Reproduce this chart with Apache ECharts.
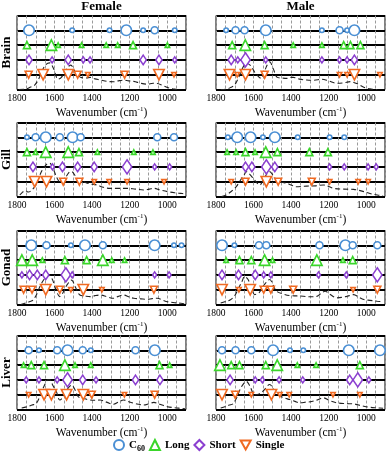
<!DOCTYPE html>
<html>
<head>
<meta charset="utf-8">
<script src="https://cdn.jsdelivr.net/npm/echarts@6/dist/echarts.min.js"></script>
<style>
html,body{margin:0;padding:0;background:#fff;}
#c{width:389px;height:454px;}
</style>
</head>
<body>
<div id="c"></div>
<script>
// ---------- labels ----------
const TISSUES = ['Brain', 'Gill', 'Gonad', 'Liver'];
const SEXES = ['Female', 'Male'];
const SERIES_NAMES = ['C60', 'Long', 'Short', 'Single'];
const SERIES_LEVEL = [4, 3, 2, 1];
const X_TICKS = [1800, 1600, 1400, 1200, 1000];

// ---------- marker data: [wavenumber, size class 1=small 2=medium 3=large] ----------
const fBrainC60    = [[1736,3],[1506,1],[1307,1],[1218,3],[1128,1],[1067,2],[960,1]];
const fBrainLong   = [[1747,2],[1617,3],[1581,1],[1456,1],[1325,1],[1264,1],[1182,2],[999,1]];
const fBrainShort  = [[1736,2],[1613,1],[1527,2],[1447,1],[1411,1],[1128,2],[1044,2],[960,1]];
const fBrainSingle = [[1738,2],[1661,3],[1527,3],[1477,2],[1423,1],[1227,2],[1044,3],[964,1]];

const mBrainC60    = [[1746,1],[1696,2],[1648,2],[1535,3],[1236,1],[1142,2],[1102,1],[1063,3]];
const mBrainLong   = [[1714,2],[1644,3],[1541,2],[1389,1],[1236,1],[1120,2],[1084,2],[1031,2]];
const mBrainShort  = [[1719,2],[1684,1],[1643,3],[1535,1],[1236,1],[1142,1],[1102,1],[1063,2]];
const mBrainSingle = [[1728,3],[1687,1],[1643,3],[1541,2],[1142,1],[1102,1],[1063,3],[927,1]];

const fGillC60    = [[1747,1],[1701,2],[1647,3],[1572,2],[1504,3],[1461,2],[1053,2],[964,2]];
const fGillLong   = [[1747,2],[1701,1],[1647,3],[1527,3],[1470,2],[1372,1],[1178,1],[1076,1]];
const fGillShort  = [[1715,2],[1611,1],[1558,2],[1477,2],[1389,2],[1214,3],[1067,1],[987,1]];
const fGillSingle = [[1706,3],[1643,3],[1554,2],[1468,2],[1389,1],[1309,1],[1214,1],[1017,1]];

const mGillC60    = [[1737,1],[1687,3],[1616,3],[1550,1],[1487,3],[1365,1],[1195,1],[1117,1]];
const mGillLong   = [[1741,1],[1693,1],[1643,2],[1592,1],[1535,3],[1473,2],[1303,2],[1204,2]];
const mGillShort  = [[1643,2],[1609,2],[1532,3],[1487,2],[1195,1],[1117,1],[990,1],[947,1]];
const mGillSingle = [[1719,1],[1643,2],[1532,3],[1469,2],[1290,2],[1195,1],[1043,1],[990,1]];

const fGonadC60    = [[1724,3],[1643,2],[1513,1],[1438,3],[1343,2],[1067,3],[964,1],[924,1]];
const fGonadLong   = [[1774,3],[1719,3],[1665,1],[1545,2],[1429,2],[1343,3],[1295,1],[1227,1]];
const fGonadShort  = [[1774,1],[1733,2],[1692,2],[1647,2],[1540,3],[1506,1],[1067,1],[990,1]];
const fGonadSingle = [[1765,2],[1720,2],[1647,3],[1572,2],[1513,1],[1447,3],[1348,1],[1071,2]];

const mGonadC60    = [[1768,3],[1702,1],[1571,2],[1532,2],[1249,2],[1111,3],[1072,2],[941,2]];
const mGonadLong   = [[1746,1],[1675,2],[1612,2],[1541,3],[1499,1],[1263,3],[1124,1],[1072,2]];
const mGonadShort  = [[1768,2],[1680,2],[1591,2],[1546,1],[1508,1],[1254,1],[1106,1],[941,3]];
const mGonadSingle = [[1768,3],[1678,1],[1618,3],[1546,2],[1508,2],[1389,2],[1070,1],[941,2]];

const fLiverC60    = [[1738,2],[1683,1],[1586,2],[1531,3],[1450,2],[1407,1],[1169,2],[1066,3]];
const fLiverLong   = [[1765,1],[1724,2],[1656,2],[1545,3],[1491,1],[1407,1],[1041,2],[987,1]];
const fLiverShort  = [[1751,1],[1683,1],[1586,1],[1531,3],[1450,2],[1379,1],[1169,2],[1039,2]];
const fLiverSingle = [[1738,1],[1656,3],[1617,3],[1536,3],[1447,3],[1402,2],[1228,1],[1067,2]];

const mLiverC60    = [[1768,2],[1696,2],[1612,2],[1496,3],[1406,1],[1335,1],[1093,3],[927,3]];
const mLiverLong   = [[1779,3],[1719,2],[1675,2],[1535,2],[1474,3],[1367,1],[1267,1],[1034,2]];
const mLiverShort  = [[1725,2],[1591,1],[1553,1],[1464,1],[1338,1],[1088,2],[1045,3],[986,1]];
const mLiverSingle = [[1768,3],[1698,2],[1612,1],[1505,3],[1460,1],[1410,1],[1177,1],[1034,1]];

// ---------- mean spectra (dashed): [wavenumber, absorbance in row units] ----------
const fBrainSpec = [[1790,0],[1755,0.02],[1730,0.15],[1706,0.3],[1685,0.7],[1665,1.3],[1645,1.7],[1626,1.8],[1605,1.4],[1581,0.7],[1565,0.8],[1540,1.3],[1514,1.65],[1490,1.2],[1456,0.8],[1430,0.78],[1411,0.82],[1385,0.72],[1357,0.65],[1320,0.55],[1286,0.52],[1255,0.6],[1232,0.63],[1205,0.58],[1178,0.55],[1140,0.42],[1107,0.36],[1075,0.42],[1053,0.41],[1025,0.28],[999,0.14],[970,0.04],[946,0]];
const mBrainSpec = [[1775,0],[1746,0.02],[1720,0.15],[1701,0.3],[1680,0.8],[1660,1.4],[1639,1.77],[1615,1.6],[1590,1.1],[1558,0.75],[1540,1.3],[1514,1.88],[1495,1.4],[1474,0.82],[1450,0.78],[1424,0.75],[1400,0.82],[1389,0.82],[1355,0.7],[1317,0.64],[1280,0.62],[1236,0.69],[1200,0.58],[1156,0.42],[1120,0.45],[1084,0.53],[1050,0.4],[1013,0.15],[980,0.04],[941,0]];
const fGillSpec = [[1785,0.1],[1770,0.3],[1755,0.4],[1740,0.3],[1720,0.45],[1700,0.8],[1680,1.4],[1660,1.9],[1640,2.2],[1625,2.24],[1605,1.8],[1585,1.2],[1565,0.9],[1545,1.2],[1525,1.6],[1509,1.68],[1490,1.4],[1470,1.1],[1447,1.0],[1410,0.85],[1375,0.78],[1340,0.62],[1304,0.55],[1260,0.55],[1214,0.55],[1170,0.5],[1125,0.44],[1095,0.5],[1071,0.55],[1040,0.45],[999,0.33],[960,0.25],[928,0.21],[905,0.18]];
const mGillSpec = [[1770,0],[1746,0.1],[1728,0.25],[1710,0.44],[1690,0.7],[1675,1.0],[1660,1.3],[1648,1.5],[1639,1.68],[1620,1.5],[1594,1.1],[1567,0.78],[1545,1.2],[1525,1.6],[1514,1.68],[1495,1.4],[1469,1.0],[1445,0.95],[1424,0.9],[1400,0.78],[1371,0.66],[1340,0.68],[1317,0.7],[1270,0.72],[1228,0.78],[1200,0.68],[1174,0.55],[1120,0.5],[1067,0.48],[1040,0.42],[1013,0.33],[980,0.2],[941,0.1],[910,0.05]];
const fGonadSpec = [[1780,0],[1751,0.12],[1730,0.2],[1715,0.3],[1695,0.7],[1675,1.3],[1650,1.8],[1630,2.0],[1612,1.7],[1595,1.1],[1572,0.53],[1555,0.8],[1535,1.3],[1509,1.65],[1490,1.2],[1465,0.64],[1440,0.58],[1411,0.53],[1385,0.6],[1357,0.64],[1320,0.52],[1286,0.42],[1260,0.55],[1232,0.64],[1205,0.52],[1178,0.42],[1140,0.38],[1107,0.35],[1080,0.4],[1053,0.42],[1025,0.3],[999,0.19],[960,0.12],[928,0.08],[905,0.05]];
const mGonadSpec = [[1775,0.1],[1746,0.22],[1725,0.3],[1700,0.6],[1680,1.1],[1660,1.6],[1648,1.9],[1630,1.7],[1610,1.1],[1594,0.67],[1570,0.8],[1545,1.3],[1514,1.69],[1495,1.3],[1478,0.9],[1440,0.7],[1407,0.6],[1370,0.58],[1335,0.56],[1300,0.52],[1263,0.55],[1240,0.75],[1219,0.9],[1195,0.7],[1156,0.45],[1120,0.5],[1090,0.6],[1067,0.67],[1040,0.5],[1013,0.34],[980,0.28],[941,0.22],[910,0.18]];
const fLiverSpec = [[1775,0.1],[1742,0.2],[1720,0.3],[1697,0.42],[1675,1.0],[1655,1.6],[1635,2.0],[1625,2.0],[1608,1.6],[1590,1.2],[1572,0.64],[1550,0.9],[1530,1.4],[1509,1.65],[1490,1.3],[1474,0.87],[1440,0.72],[1411,0.64],[1385,0.62],[1357,0.64],[1320,0.48],[1286,0.35],[1260,0.5],[1232,0.64],[1205,0.52],[1178,0.42],[1150,0.35],[1125,0.3],[1095,0.4],[1071,0.48],[1040,0.35],[999,0.19],[960,0.12],[928,0.08],[905,0.05]];
const mLiverSpec = [[1775,0.1],[1746,0.22],[1730,0.3],[1710,0.38],[1690,0.8],[1670,1.4],[1650,1.8],[1639,1.9],[1620,1.6],[1594,1.0],[1570,1.05],[1545,1.3],[1514,1.69],[1495,1.4],[1469,1.0],[1440,0.8],[1407,0.67],[1380,0.55],[1353,0.45],[1320,0.5],[1299,0.52],[1260,0.65],[1228,0.79],[1195,0.6],[1156,0.45],[1110,0.4],[1067,0.38],[1040,0.3],[1013,0.22],[980,0.15],[941,0.11],[910,0.08]];

// panel order: row-major (tissue) x (sex)
const PANELS = [
  {marks:[fBrainC60,fBrainLong,fBrainShort,fBrainSingle], spec:fBrainSpec},
  {marks:[mBrainC60,mBrainLong,mBrainShort,mBrainSingle], spec:mBrainSpec},
  {marks:[fGillC60,fGillLong,fGillShort,fGillSingle], spec:fGillSpec},
  {marks:[mGillC60,mGillLong,mGillShort,mGillSingle], spec:mGillSpec},
  {marks:[fGonadC60,fGonadLong,fGonadShort,fGonadSingle], spec:fGonadSpec},
  {marks:[mGonadC60,mGonadLong,mGonadShort,mGonadSingle], spec:mGonadSpec},
  {marks:[fLiverC60,fLiverLong,fLiverShort,fLiverSingle], spec:fLiverSpec},
  {marks:[mLiverC60,mLiverLong,mLiverShort,mLiverSingle], spec:mLiverSpec}
];

// ---------- styling ----------
const FONT = 'Liberation Serif';
const COLORS = ['#4a8fd4', '#3ad62a', '#8b3fd0', '#f06a22'];
const SYMBOLS = ['circle', 'triangle', 'diamond', 'triangle'];
const ROTATE = [0, 0, 0, 180];
const SIZE = {1: 4.5, 2: 7, 3: 10.5};
const COL_LEFT = [17, 216];
const GRID_W = 169;
const ROW_TOP = [15.5, 122.5, 230.5, 335.5];
const GRID_H = 74;

const grids = [], xAxes = [], yAxes = [], series = [];
PANELS.forEach((p, i) => {
  const row = Math.floor(i / 2), col = i % 2;
  grids.push({left: COL_LEFT[col], top: ROW_TOP[row], width: GRID_W, height: GRID_H,
    show: true, borderColor: '#000', borderWidth: 1, backgroundColor: '#fff',
    containLabel: false, outerBoundsMode: 'none'});
  xAxes.push({
    gridIndex: i, type: 'value', min: 900, max: 1800, interval: 50, inverse: true,
    axisLine: {show: false}, axisTick: {show: false},
    axisLabel: {formatter: v => X_TICKS.includes(v) ? String(v) : '', fontFamily: FONT,
      fontSize: 9.5, color: '#000', margin: 4},
    splitLine: {show: true, lineStyle: {color: '#9a9a9a', type: [3, 2], width: 1}},
    name: '{a|Wavenumber (cm}{b|-1}{a|)}', nameLocation: 'middle', nameGap: 16,
    nameTextStyle: {rich: {
      a: {fontFamily: FONT, fontSize: 11.5, color: '#000', lineHeight: 14, verticalAlign: 'middle'},
      b: {fontFamily: FONT, fontSize: 7, color: '#000', lineHeight: 14, verticalAlign: 'top'}
    }}
  });
  yAxes.push({
    gridIndex: i, type: 'value', min: 0, max: 5, interval: 1,
    axisLine: {show: false}, axisTick: {show: false}, axisLabel: {show: false},
    splitLine: {show: true, lineStyle: {color: '#000', width: 2}},
    name: col === 0 ? TISSUES[row] : '', nameLocation: 'middle', nameRotate: 90, nameGap: 4,
    nameTextStyle: {fontFamily: FONT, fontWeight: 'bold', fontSize: 13, color: '#000'}
  });
  series.push({
    type: 'line', name: 'spectrum', xAxisIndex: i, yAxisIndex: i, data: p.spec,
    showSymbol: false, symbol: 'none', smooth: 0.35, silent: true, z: 1,
    lineStyle: {color: '#222', width: 1.1, type: [5, 3]}
  });
  p.marks.forEach((arr, k) => {
    series.push({
      type: 'scatter', name: SERIES_NAMES[k], xAxisIndex: i, yAxisIndex: i, z: 3,
      symbol: SYMBOLS[k], symbolRotate: ROTATE[k],
      itemStyle: {color: '#fff', borderColor: COLORS[k], borderWidth: 1.6, opacity: 1},
      data: arr.map(d => ({
        value: [d[0], SERIES_LEVEL[k]],
        symbolSize: SYMBOLS[k] === 'diamond' ? [SIZE[d[1]] * 0.9, SIZE[d[1]] * 1.35] : SIZE[d[1]]
      }))
    });
  });
});

const legendData = SERIES_NAMES.map((n, k) => ({
  name: n,
  icon: k === 3 ? 'path://M0,0L10,0L5,9Z' : SYMBOLS[k],
  itemStyle: {color: '#fff', borderColor: COLORS[k], borderWidth: 2}
}));

const graphics = SEXES.map((s, c) => ({
  type: 'text', x: COL_LEFT[c] + GRID_W / 2, y: 7,
  style: {text: s, align: 'center', verticalAlign: 'middle', fontFamily: FONT,
    fontWeight: 'bold', fontSize: 13, fill: '#000'}
}));

const chart = echarts.init(document.getElementById('c'), null, {renderer: 'canvas'});
chart.setOption({
  animation: false,
  backgroundColor: '#fff',
  grid: grids, xAxis: xAxes, yAxis: yAxes, series: series,
  graphic: graphics,
  legend: {
    left: 108, top: 434, itemWidth: 10, itemHeight: 10, itemGap: 4, selectedMode: false,
    data: legendData,
    formatter: n => n === 'C60' ? '{n|C}{s|60}' : '{n|' + n + '}',
    textStyle: {fontFamily: FONT, fontWeight: 'bold', fontSize: 11, color: '#000',
      rich: {
        n: {fontFamily: FONT, fontWeight: 'bold', fontSize: 11, color: '#000', lineHeight: 16, verticalAlign: 'middle'},
        s: {fontFamily: FONT, fontWeight: 'bold', fontSize: 8, color: '#000', lineHeight: 16, verticalAlign: 'bottom'}
      }}
  }
});
</script>
</body>
</html>
